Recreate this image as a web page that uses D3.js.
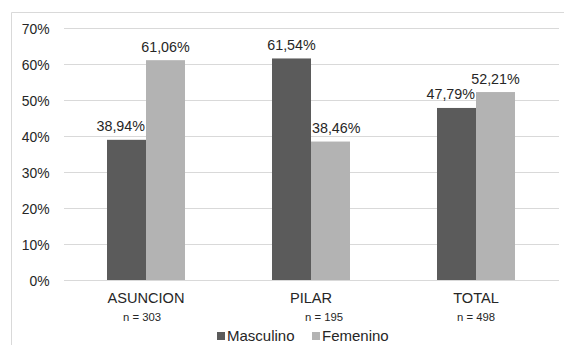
<!DOCTYPE html>
<html>
<head>
<meta charset="utf-8">
<script src="https://cdn.jsdelivr.net/npm/d3@7"></script>
<style>
  html, body { margin: 0; padding: 0; background: #fff; }
  svg { display: block; font-family: "Liberation Sans", Arial, sans-serif; }
</style>
</head>
<body>
<svg id="chart" width="564" height="345"></svg>
<script>
// Distribución por sexo según ciudad
const categories = ["ASUNCION", "PILAR", "TOTAL"];
const sampleSizes = ["n = 303", "n = 195", "n = 498"];
const seriesNames = ["Masculino", "Femenino"];
const masculino = [38.94, 61.54, 47.79];
const femenino = [61.06, 38.46, 52.21];
const yTicks = [0, 10, 20, 30, 40, 50, 60, 70];

const colors = { Masculino: "#5b5b5b", Femenino: "#b3b3b3" };
const textColor = "#262626";
// horizontal nudge of the second line of each category label
const sampleLabelShift = [-4, 13, 0];

const svg = d3.select("#chart");
const margin = { left: 63.5, right: 5.5, top: 28, bottom: 65 };
const W = 564, H = 345;

// chart area frame (runs off the right and bottom edges)
svg.append("path")
  .attr("d", `M11.5,${H} V12.5 H${W}`)
  .attr("fill", "none")
  .attr("stroke", "#d9d9d9")
  .attr("stroke-width", 1);

const y = d3.scaleLinear().domain([0, 70]).range([280, 28]);
const x0 = d3.scaleBand().domain(categories)
  .range([margin.left, W - margin.right])
  .paddingInner(87 / 165).paddingOuter(87 / 330);
const x1 = d3.scaleBand().domain(seriesNames).range([0, x0.bandwidth()]);

// gridlines and tick labels
const yAxis = d3.axisLeft(y).tickValues(yTicks).tickSize(-(W - margin.right - margin.left))
  .tickFormat(d => d + "%");
const gAxis = svg.append("g").attr("transform", `translate(${margin.left},0)`).call(yAxis);
gAxis.select(".domain").remove();
gAxis.selectAll(".tick line").attr("stroke", "#d9d9d9").attr("stroke-width", 1)
  .attr("shape-rendering", "crispEdges");
gAxis.selectAll(".tick text")
  .attr("x", -14).attr("dy", "0.36em")
  .attr("fill", textColor).attr("font-size", 13.9)
  .attr("font-family", "Liberation Sans, Arial, sans-serif");

const rows = categories.map((c, i) => ({
  cat: c,
  vals: [
    { key: "Masculino", v: masculino[i], other: femenino[i] },
    { key: "Femenino", v: femenino[i], other: masculino[i] }
  ]
}));

const groups = svg.append("g").selectAll("g").data(rows).join("g")
  .attr("transform", d => `translate(${x0(d.cat)},0)`);

groups.selectAll("rect").data(d => d.vals).join("rect")
  .attr("x", d => x1(d.key))
  .attr("y", d => y(d.v))
  .attr("width", x1.bandwidth())
  .attr("height", d => y(0) - y(d.v))
  .attr("fill", d => colors[d.key]);

// value labels; a label beside a taller neighbour slides away from it
groups.selectAll("text.val").data(d => d.vals).join("text")
  .attr("class", "val")
  .attr("y", d => y(d.v) - 8.5)
  .attr("text-anchor", "middle")
  .attr("fill", textColor)
  .attr("font-size", 14.3)
  .text(d => d.v.toFixed(2).replace(".", ",") + "%")
  .attr("x", function (d) {
    const cx = x1(d.key) + x1.bandwidth() / 2;
    if (d.other <= d.v) return cx;
    const over = Math.max(0, (this.getComputedTextLength() - x1.bandwidth()) / 2) + 1;
    return d.key === "Masculino" ? cx - over : cx + over;
  });

// category labels
const catG = svg.append("g");
catG.selectAll("text.cat").data(categories).join("text")
  .attr("class", "cat")
  .attr("x", d => x0(d) + x0.bandwidth() / 2)
  .attr("y", 303)
  .attr("text-anchor", "middle")
  .attr("fill", textColor)
  .attr("font-size", 14.6)
  .text(d => d);
catG.selectAll("text.n").data(categories).join("text")
  .attr("class", "n")
  .attr("x", (d, i) => x0(d) + x0.bandwidth() / 2 + sampleLabelShift[i])
  .attr("y", 321)
  .attr("text-anchor", "middle")
  .attr("fill", textColor)
  .attr("font-size", 11.3)
  .text((d, i) => sampleSizes[i]);

// legend
const legendX = [217, 312];
const leg = svg.append("g").selectAll("g").data(seriesNames).join("g")
  .attr("transform", (d, i) => `translate(${legendX[i]},0)`);
leg.append("rect").attr("x", 0).attr("y", 332).attr("width", 8).attr("height", 8)
  .attr("fill", d => colors[d]);
leg.append("text").attr("x", 10).attr("y", 340.5)
  .attr("fill", textColor).attr("font-size", 15)
  .text(d => d);
</script>
</body>
</html>
